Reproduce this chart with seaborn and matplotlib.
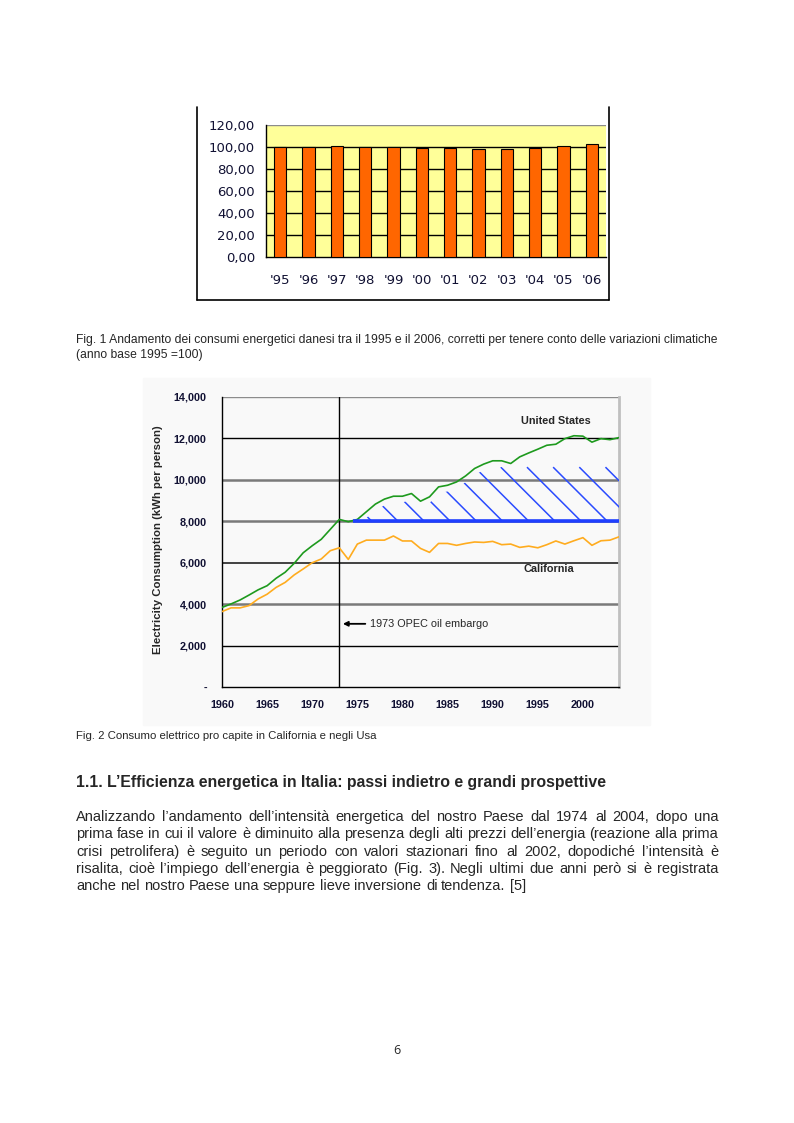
import numpy as np
import pandas as pd
import seaborn as sns
import matplotlib.pyplot as plt
from matplotlib.lines import Line2D
from matplotlib.patches import Rectangle
from matplotlib.collections import LineCollection

sns.set_style('white')
plt.rcParams['font.family'] = ['Liberation Sans', 'DejaVu Sans']

# ---- data: Danish energy consumption index (1995 = 100)
dk_years = ["'95", "'96", "'97", "'98", "'99", "'00", "'01", "'02", "'03", "'04", "'05", "'06"]
dk_index = [100.0, 100.0, 100.9, 100.0, 100.0, 99.1, 99.1, 98.2, 98.2, 99.0, 101.0, 103.0]

# ---- data: electricity consumption per person (kWh)
years = list(range(1960, 2005))
us_kwh = [3840, 4010, 4200, 4440, 4690, 4890, 5250, 5540, 5970, 6480,
          6820, 7130, 7610, 8090, 7980, 8090, 8460, 8830, 9070, 9210,
          9210, 9340, 8970, 9180, 9660, 9740, 9900, 10190, 10550, 10760,
          10920, 10920, 10790, 11110, 11300, 11480, 11670, 11720, 11990, 12130,
          12110, 11820, 11990, 11940, 12040]
ca_kwh = [3640, 3820, 3820, 3930, 4250, 4480, 4810, 5050, 5410, 5700,
          6000, 6180, 6580, 6720, 6160, 6900, 7090, 7090, 7090, 7290,
          7050, 7050, 6690, 6500, 6930, 6930, 6840, 6930, 7000, 6980,
          7030, 6870, 6900, 6740, 6800, 6720, 6870, 7050, 6900, 7060,
          7210, 6840, 7060, 7090, 7250]
embargo_year = 1973
target_kwh = 8000
target_start = 1974.5

W, H = 794, 1123
fig = plt.figure(figsize=(W / 100, H / 100), dpi=100)
fig.patch.set_facecolor('white')


def box(x0, y0, x1, y1):
    return [x0 / W, 1 - y1 / H, (x1 - x0) / W, (y1 - y0) / H]


def fx(x):
    return x / W


def fy(y):
    return 1 - y / H


# ================= Fig. 1 =================
for xs, ys in [([197, 197], [107, 300]), ([197, 609], [300, 300]), ([609, 609], [300, 107])]:
    fig.add_artist(Line2D([fx(v) for v in xs], [fy(v) for v in ys], color='black', lw=1.2,
                          transform=fig.transFigure))

ax1 = fig.add_axes(box(266, 125, 606, 257))
ax1.set_facecolor('#ffff99')
sns.barplot(x=dk_years, y=dk_index, color='#ff6600', saturation=1, width=0.44,
            edgecolor='black', linewidth=0.8, ax=ax1, zorder=3)
ax1.set_xlim(-0.5, 11.5)
ax1.set_ylim(0, 120)
for v in range(20, 101, 20):
    ax1.axhline(v, color='black', lw=1, zorder=1)
ax1.axhline(120, color='#8c8c8c', lw=1, zorder=1)
ax1.set_yticks(range(0, 121, 20))
ax1.set_yticklabels([f'{v:.2f}'.replace('.', ',') for v in range(0, 121, 20)],
                    family='DejaVu Sans', fontsize=9.5, color='#111133')
ax1.set_xticklabels(dk_years, family='DejaVu Sans', fontsize=9.5, color='#111133')
ax1.set_xticks(np.arange(2.5, 11, 1), minor=True)
ax1.tick_params(axis='x', which='major', length=0, pad=12)
ax1.tick_params(axis='x', which='minor', length=5, direction='out', color='black')
ax1.tick_params(axis='y', length=5, direction='out', color='black', pad=3)
ax1.set_xlabel('')
ax1.set_ylabel('')
for s in ['top', 'right']:
    ax1.spines[s].set_visible(False)
for s in ['left', 'bottom']:
    ax1.spines[s].set_color('black')
    ax1.spines[s].set_linewidth(1)

fig.text(fx(76), fy(340), 'Fig. 1 Andamento dei consumi energetici danesi tra il 1995 e il 2006, '
         'corretti per tenere conto delle variazioni climatiche', fontsize=8.7, va='center')
fig.text(fx(76), fy(355), '(anno base 1995 =100)', fontsize=8.7, va='center')

# ================= Fig. 2 =================
fig.add_artist(Rectangle((fx(143), fy(725)), (650 - 143) / W, (725 - 378) / H,
                         transform=fig.transFigure, color='#f9f9f9', zorder=0))

ax2 = fig.add_axes(box(222, 397, 619, 687))
ax2.set_facecolor('none')
ax2.set_xlim(1960, 2004)
ax2.set_ylim(0, 14000)

grid_style = {2000: ('black', 1.0), 4000: ('#7a7a7a', 1.8), 6000: ('#333333', 1.3),
              8000: ('#7a7a7a', 1.8), 10000: ('#7a7a7a', 1.8), 12000: ('black', 1.0),
              14000: ('#8c8c8c', 1.0)}
for v, (c, lw) in grid_style.items():
    ax2.axhline(v, color=c, lw=lw, zorder=1)
ax2.axvline(embargo_year, color='black', lw=1, zorder=2)

df = pd.DataFrame({'year': years, 'us': us_kwh, 'ca': ca_kwh})
sns.lineplot(data=df, x='year', y='us', color='#1e9a1e', lw=1.2, ax=ax2, zorder=4)
sns.lineplot(data=df, x='year', y='ca', color='#ffac1f', lw=1.2, ax=ax2, zorder=4)

# hatched savings area between target line and US curve
sub = df[df.year >= 1975]
poly = ax2.fill_between(sub.year, target_kwh, sub.us - 300, facecolor='none', edgecolor='none')
px_year = 397 / 44
px_kwh = 290 / 14000
k = px_year / px_kwh
segs = []
for x0 in np.arange(1979.5 - 2.9 * 3, 2012, 2.9):
    segs.append([(x0, target_kwh), (x0 - 6, target_kwh + 6 * k)])
hatch = LineCollection(segs, colors='#2a4bff', linewidths=1.1, zorder=3)
ax2.add_collection(hatch)
hatch.set_clip_path(poly.get_paths()[0], ax2.transData)
ax2.hlines(target_kwh, target_start, 2004, color='#1f3fff', lw=2.6, zorder=5)

ax2.set_yticks(range(0, 14001, 2000))
ax2.set_yticklabels(['-'] + [f'{v:,}' for v in range(2000, 14001, 2000)],
                    fontsize=7.8, fontweight='bold', color='#111133')
ax2.set_xticks(range(1960, 2001, 5))
ax2.set_xticklabels([str(v) for v in range(1960, 2001, 5)],
                    fontsize=7.8, fontweight='bold', color='#111133')
ax2.set_xticks(years, minor=True)
ax2.tick_params(axis='both', which='both', direction='out', length=3, color='black', width=0.8)
ax2.tick_params(axis='x', which='major', pad=6)
ax2.tick_params(axis='y', pad=8)
ax2.set_xlabel('')
ax2.set_ylabel('Electricity Consumption (kWh per person)', fontsize=8.2, fontweight='bold')
ax2.yaxis.set_label_coords(-0.148, 0.509)
ax2.spines['top'].set_visible(False)
ax2.spines['right'].set_color('#c0c0c0')
ax2.spines['right'].set_linewidth(2)
for s in ['left', 'bottom']:
    ax2.spines[s].set_color('black')
    ax2.spines[s].set_linewidth(1)

ax2.text(1997.0, 12840, 'United States', fontsize=7.8, fontweight='bold', ha='center', va='center')
ax2.text(1996.2, 5700, 'California', fontsize=7.8, fontweight='bold', ha='center', va='center')
ax2.annotate('1973 OPEC oil embargo', xy=(1973.4, 3050), xytext=(1976.4, 3050),
             fontsize=7.8, va='center', ha='left',
             arrowprops=dict(arrowstyle='-|>', color='black', lw=1.3, mutation_scale=7,
                             shrinkA=1, shrinkB=0))

fig.text(fx(76), fy(736), 'Fig. 2 Consumo elettrico pro capite in California e negli Usa',
         fontsize=8.2, va='center')

# ================= text =================
fig.text(fx(76), fy(783), '1.1. L’Efficienza energetica in Italia: passi indietro e grandi prospettive',
         fontsize=11.4, fontweight='bold', va='center')

para = [
    'Analizzando l’andamento dell’intensità energetica del nostro Paese dal 1974 al 2004, dopo una',
    'prima fase in cui il valore è diminuito alla presenza degli alti prezzi dell’energia (reazione alla prima',
    'crisi petrolifera) è seguito un periodo con valori stazionari fino al 2002, dopodiché l’intensità è',
    'risalita, cioè l’impiego dell’energia è peggiorato (Fig. 3). Negli ultimi due anni però si è registrata',
    'anche nel nostro Paese una seppure lieve inversione di tendenza. [5]',
]
line_base = [821, 838, 856, 873, 890]
renderer = fig.canvas.get_renderer()
body_size = 10.5


def text_width(s):
    t = fig.text(0, 0, s, fontsize=body_size)
    w = t.get_window_extent(renderer).width
    t.remove()
    return w


space_w = text_width('a b') - text_width('ab')
for i, (line, yb) in enumerate(zip(para, line_base)):
    words = line.split(' ')
    widths = [text_width(w) for w in words]
    if i == len(para) - 1:
        gap = space_w
    else:
        gap = (718 - 76 - sum(widths)) / (len(words) - 1)
    x = 76.0
    for w, wd in zip(words, widths):
        fig.text(fx(round(x)), fy(yb), w, fontsize=body_size, va='baseline')
        x += wd + gap

fig.text(fx(397), fy(1050), '6', fontsize=9, family='Open Sans', ha='center', va='center')

fig.savefig('out.png', dpi=100)
